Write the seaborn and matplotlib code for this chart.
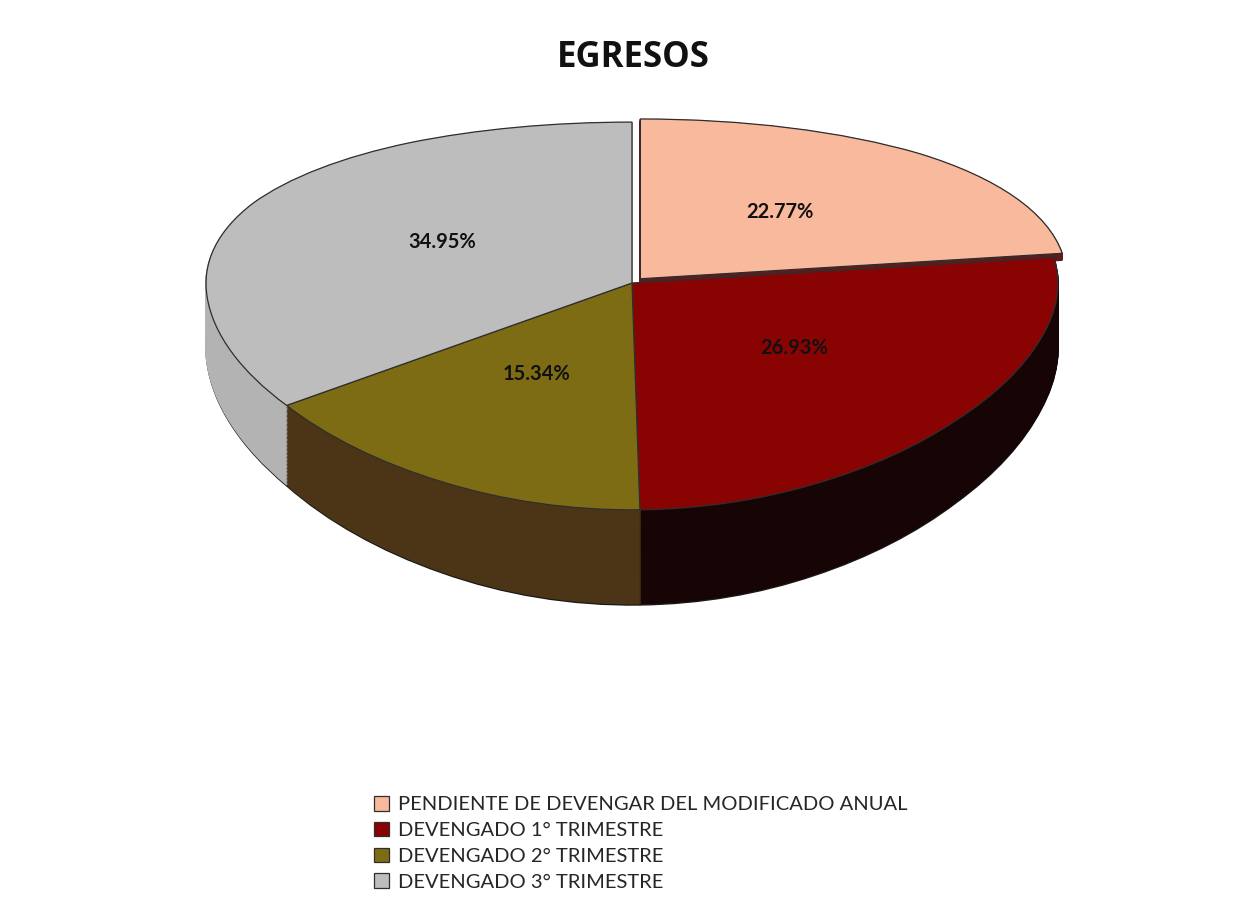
import matplotlib
matplotlib.use("Agg")
import matplotlib.pyplot as plt
import seaborn as sns

# data
categories = [
    "PENDIENTE DE DEVENGAR DEL MODIFICADO ANUAL",
    "DEVENGADO 1° TRIMESTRE",
    "DEVENGADO 2° TRIMESTRE",
    "DEVENGADO 3° TRIMESTRE",
]
shares = [22.77, 26.93, 15.34, 34.95]
explode = [0.03, 0, 0, 0]

top_colors = sns.color_palette(["#F8B99C", "#8A0303", "#7E6C14", "#BDBDBD"])
side_colors = sns.color_palette(["#5A1C1C", "#170505", "#4C3516", "#B3B3B3"])

sns.set_style("white")
plt.rcParams["font.family"] = ["Lato", "DejaVu Sans"]

fig = plt.figure(figsize=(12.51, 9.08), dpi=100)
ax = fig.add_axes([0, 0, 1, 1])

# perspective: the far half of the disc looks flatter than the near half
c = 0.17


def persp(y):
    return y / (1 + c * y)


def persp_inv(y):
    return y / (1 - c * y)


# fake 3D: stack of pies shifted down for the side wall
depth = 0.325
n_layers = 60
for k in range(n_layers, 0, -1):
    wedges, _ = ax.pie(shares, colors=side_colors, startangle=90, counterclock=False,
                       explode=explode, center=(0, -depth * k / n_layers),
                       wedgeprops=dict(linewidth=1.2))
    for i, w in enumerate(wedges):
        if k == n_layers:
            w.set_edgecolor("#1a1a1a")
            w.set_linewidth(1.0)
        else:
            w.set_edgecolor(w.get_facecolor())
        # exploded slice only shows a thin wall
        if i == 0 and k > n_layers * 0.12:
            w.set_visible(False)

# top face
wedges, _, autotexts = ax.pie(shares, colors=top_colors, startangle=90, counterclock=False,
                              explode=explode, autopct="%.2f%%", pctdistance=0.5,
                              wedgeprops=dict(linewidth=0.9, edgecolor="#2e2e2e"),
                              textprops=dict(fontsize=14.5, fontweight="bold", color="#111111"))

ax.set_yscale("function", functions=(persp, persp_inv))
ax.set_aspect("auto")
ax.set_xlim(-1.4836, 1.4531)
ax.set_ylim(-2.122, 2.019)
ax.axis("off")

fig.text(0.506, 1 - 58 / 908, "EGRESOS", ha="center", va="center",
         fontsize=25, fontweight="bold", color="#111111", family="Open Sans")

ax.legend(wedges, categories, loc="upper left", bbox_to_anchor=(0.288, 0.139),
          bbox_transform=fig.transFigure, frameon=False, fontsize=14.5,
          handlelength=0.75, handleheight=0.75, handletextpad=0.4,
          labelspacing=0.42, borderpad=0.2)

fig.savefig("out.png", dpi=100, facecolor="white")
